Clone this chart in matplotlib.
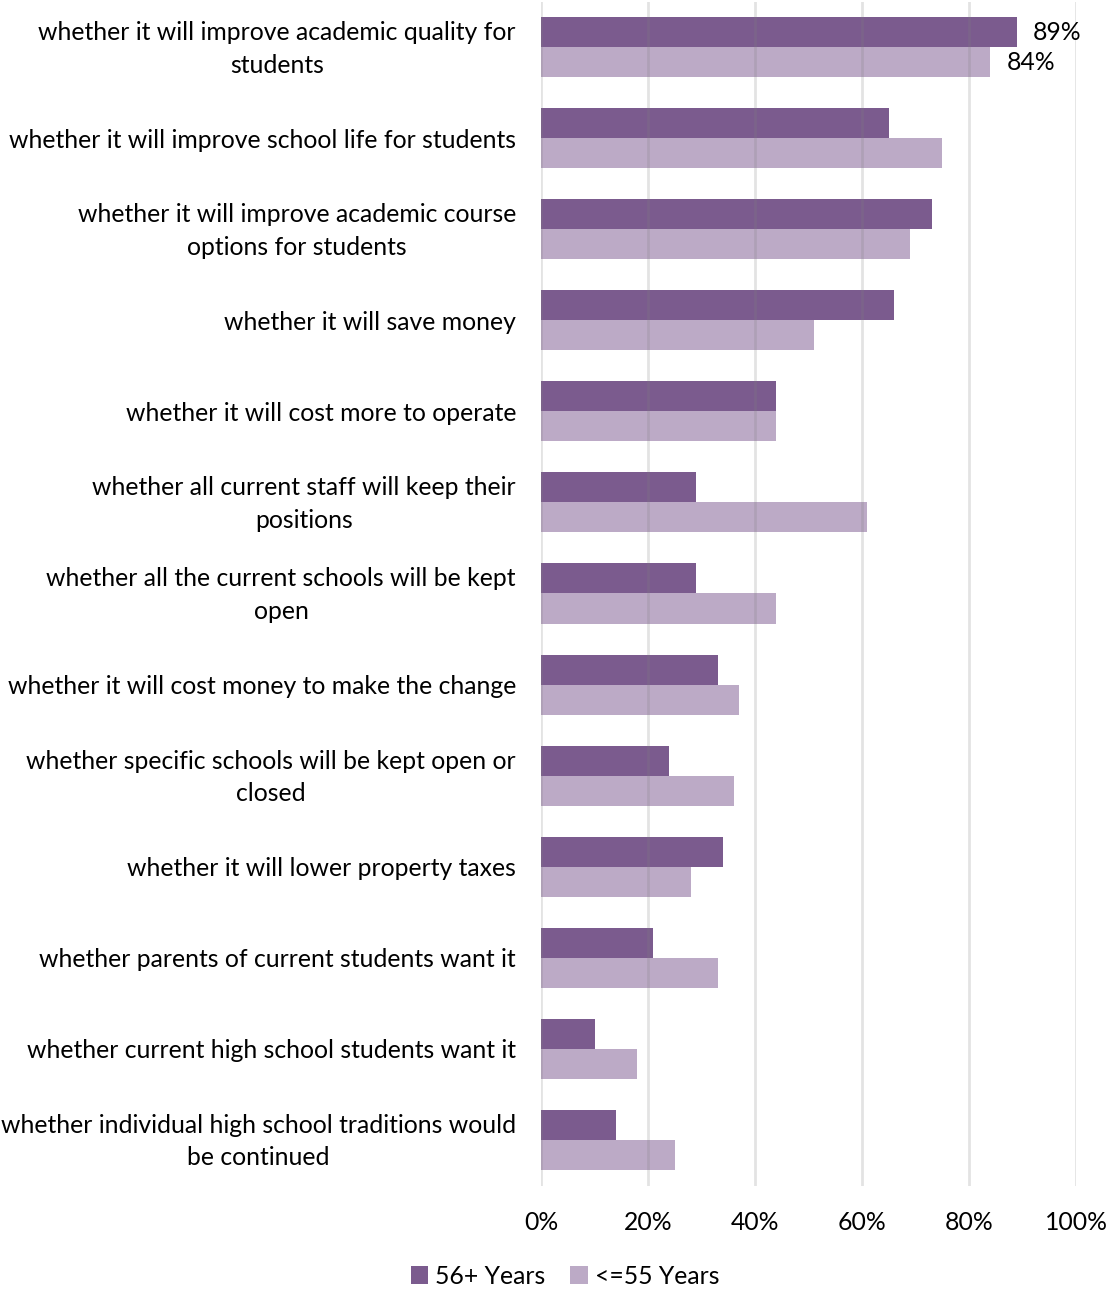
import matplotlib
matplotlib.use("Agg")
import matplotlib.pyplot as plt
import matplotlib.transforms as mtransforms
import numpy as np

plt.rcParams['font.family'] = ['Lato', 'DejaVu Sans']

categories = [
    "whether it will improve academic quality for\nstudents",
    "whether it will improve school life for students",
    "whether it will improve academic course\noptions for students",
    "whether it will save money",
    "whether it will cost more to operate",
    "whether all current staff will keep their\npositions",
    "whether all the current schools will be kept\nopen",
    "whether it will cost money to make the change",
    "whether specific schools will be kept open or\nclosed",
    "whether it will lower property taxes",
    "whether parents of current students want it",
    "whether current high school students want it",
    "whether individual high school traditions would\nbe continued",
]
older = [89, 65, 73, 66, 44, 29, 29, 33, 24, 34, 21, 10, 14]
younger = [84, 75, 69, 51, 44, 61, 44, 37, 36, 28, 33, 18, 25]
series_names = ["56+ Years", "<=55 Years"]

c_dark = "#7B5B8E"
c_light = "#BCAAC6"
fs = 17.8

fig = plt.figure(figsize=(11.11, 12.94), dpi=100)
ax = fig.add_axes([541/1111, 1-1185.5/1294, 535/1111, 1184/1294])

y = np.arange(len(categories))
h = 0.33
ax.barh(y - h/2, older, height=h, color=c_dark, label=series_names[0], zorder=2)
ax.barh(y + h/2, younger, height=h, color=c_light, label=series_names[1], zorder=2)

ax.set_xlim(0, 100)
ax.set_ylim(len(categories) - 0.5, -0.5)
ax.set_yticks(y)
ax.set_yticklabels(categories, fontsize=fs, multialignment='center', color='black', linespacing=1.5)
ax.set_xticks(np.arange(0, 101, 20))
ax.set_xticklabels([f"{v}%" for v in range(0, 101, 20)], fontsize=fs)
ax.tick_params(axis='both', length=0)
ax.tick_params(axis='y', pad=18)
ax.tick_params(axis='x', pad=18)
for s in ax.spines.values():
    s.set_visible(False)
for xv in range(0, 101, 20):
    ax.axvline(xv, color='#808080', alpha=0.22, lw=2, zorder=3)

shift = mtransforms.ScaledTranslation(0, 5/100, fig.dpi_scale_trans)
for lbl in ax.get_yticklabels():
    if "\n" in lbl.get_text():
        lbl.set_transform(lbl.get_transform() + shift)

# data labels on first category
ax.text(older[0] + 3, 0 - h/2, f"{older[0]}%", va='center', ha='left', fontsize=fs)
ax.text(younger[0] + 3, 0 + h/2, f"{younger[0]}%", va='center', ha='left', fontsize=fs)

fig.legend(loc='center', bbox_to_anchor=(565/1111, 1-1276/1294), ncol=2, frameon=False,
           fontsize=fs, handlelength=0.7, handleheight=0.7, handletextpad=0.3, columnspacing=1.0)

fig.savefig("out.png", dpi=100)
